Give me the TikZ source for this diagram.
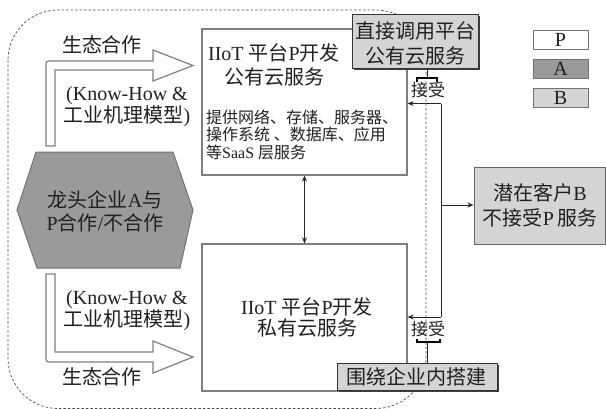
\documentclass[tikz,border=0pt]{standalone}
\usepackage{fontspec}
\setmainfont{Liberation Serif}
\newfontfamily\cjk{Noto Sans CJK SC}
\newcommand\zh[1]{{\cjk #1}}
\usetikzlibrary{shadows,arrows.meta}
\definecolor{txt}{HTML}{231F20}
\definecolor{lgray}{HTML}{D4D4D4}
\definecolor{dgray}{HTML}{9A9A9A}
\definecolor{bord}{HTML}{7F7F7F}
\begin{document}
\begin{tikzpicture}[x=1pt,y=-1pt,
  lbl/.style={inner sep=0pt, text=txt, align=center},
  big/.style={font=\fontsize{20}{24}\selectfont},
  pbox/.style={draw=bord, line width=1.2pt, fill=white, inner sep=0pt},
  sbox/.style={draw=black!80, line width=1pt, fill=lgray, inner sep=0pt,
     drop shadow={shadow xshift=2pt, shadow yshift=-2pt, fill=black!75, opacity=1}},
  legbox/.style={draw=black!55, line width=1pt, inner sep=0pt, minimum width=55pt, minimum height=19pt,
     text=txt, font=\fontsize{20}{22}\selectfont},
  blk/.style={draw=bord, line width=1.2pt, fill=white},
  conn/.style={black!85, line width=0.8pt},
  tip/.style={-{Stealth[length=6pt,width=5pt]}},
  tbar/.style={black, line width=2pt}
]
\useasboundingbox[fill=white] (0,0) rectangle (606,408);

% dashed region
\draw[black!70, line width=0.7pt, dash pattern=on 2.5pt off 2pt, rounded corners=50pt]
  (8,10) rectangle (426,408.5);

% block arrows
\draw[blk] (46,146) -- (46,67) .. controls (46,61) .. (52,61) -- (153,61) -- (153,50)
  -- (193,65.5) -- (153,81) -- (153,70) -- (55,70) -- (55,146) -- cycle;
\draw[blk] (46,274) -- (46,356) .. controls (46,362) .. (52,362) -- (153,362) -- (153,373)
  -- (193,357) -- (153,341) -- (153,352) -- (55,352) -- (55,274) -- cycle;

% hexagon A
\draw[draw=black!55, line width=1pt, fill=dgray]
  (36,152) -- (173,152) -- (193,210) -- (180,268) -- (37,268) -- (17,210) -- cycle;
\node[lbl, font=\fontsize{20}{23}\selectfont] (hex) at (105,211.5)
  {\zh{龙头企业}A\zh{与}\\P\zh{合作}/\zh{不合作}};

% main boxes
\node[pbox, minimum width=205pt, minimum height=146pt] (pub) at (304.5,102) {};
\node[pbox, minimum width=205pt, minimum height=147pt] (priv) at (304.5,317.5) {};
\node[lbl, font=\fontsize{20}{24}\selectfont] (pubt) at (274,65)
  {IIoT \zh{平台}P\zh{开发}\\\zh{公有云服务}};
\node[lbl, align=left, anchor=west, font=\fontsize{16}{17.5}\selectfont] (pubb) at (206,134.5)
  {\zh{提供网络、存储、服务器、}\\\zh{操作系统 、数据库、应用}\\\zh{等}SaaS \zh{层服务}};
\node[lbl, font=\fontsize{20}{21.5}\selectfont] (privt) at (307,317.5)
  {IIoT \zh{平台}P\zh{开发}\\\zh{私有云服务}};

\draw[conn, {Stealth[length=6pt,width=5pt]}-{Stealth[length=6pt,width=5pt]}] (pub.south) -- (priv.north);

% B box
\node[draw=black!60, line width=1pt, fill=lgray, minimum width=131pt, minimum height=77pt,
  inner sep=0pt] (cb) at (539.5,205.5) {};
\node[lbl, font=\fontsize{20}{25}\selectfont] (cbt) at (540,205.5)
  {\zh{潜在客户}B\\\zh{不接受}P\,\zh{服务}};

% connector from B side
\coordinate (j1) at (441,103.5);
\coordinate (j2) at (441,317);
\coordinate (j3) at (441,205);
\draw[conn] (j1) -- (j2);
\draw[conn, tip] (j1) -- (j1 -| pub.east);
\draw[conn, tip] (j2) -- (j2 -| priv.east);
\draw[conn, tip] (j3) -- (j3 -| cb.west);

% shadow boxes
\node[sbox, minimum width=126pt, minimum height=54pt] (tr) at (415,41) {};
\node[lbl, font=\fontsize{20}{25}\selectfont] (trt) at (415,43.5)
  {\zh{直接调用平台}\\\zh{公有云服务}};
\node[sbox, minimum width=160pt, minimum height=27pt] (bt) at (417,376.5) {};
\node[lbl, font=\fontsize{20}{22}\selectfont] (btt) at (416,376.5) {\zh{围绕企业内搭建}};

% accept markers
\coordinate (a1) at (427,78);
\coordinate (a2) at (427,342);
\draw[conn] (a1 |- tr.south) -- (a1);
\draw[tbar] (417,81.5) -- (417,78) -- (437,78) -- (437,81.5);
\draw[conn] (a2) -- (a2 |- bt.north);
\draw[tbar] (417,338.5) -- (417,342) -- (440,342) -- (440,338.5);
\node[lbl, font=\fontsize{17}{19}\selectfont] (acc1) at (428,90) {\zh{接受}};
\node[lbl, font=\fontsize{17}{19}\selectfont] (acc2) at (428,329.5) {\zh{接受}};

% arrow labels
\node[lbl, font=\fontsize{20}{22}\selectfont] (eco1) at (102,45) {\zh{生态合作}};
\node[lbl, font=\fontsize{20}{20}\selectfont] (kh1) at (127,107) {(Know-How \&\\\zh{工业机理模型})};
\node[lbl, font=\fontsize{20}{22}\selectfont] (kh2) at (127,311) {(Know-How \&\\\zh{工业机理模型})};
\node[lbl, font=\fontsize{20}{22}\selectfont] (eco2) at (102,377) {\zh{生态合作}};

% legend
\node[legbox, fill=white] (lp) at (560.5,39.5) {P};
\node[legbox, fill=dgray] (la) at (560.5,69) {A};
\node[legbox, fill=lgray] (lb) at (560.5,97.5) {B};
\end{tikzpicture}
\end{document}
